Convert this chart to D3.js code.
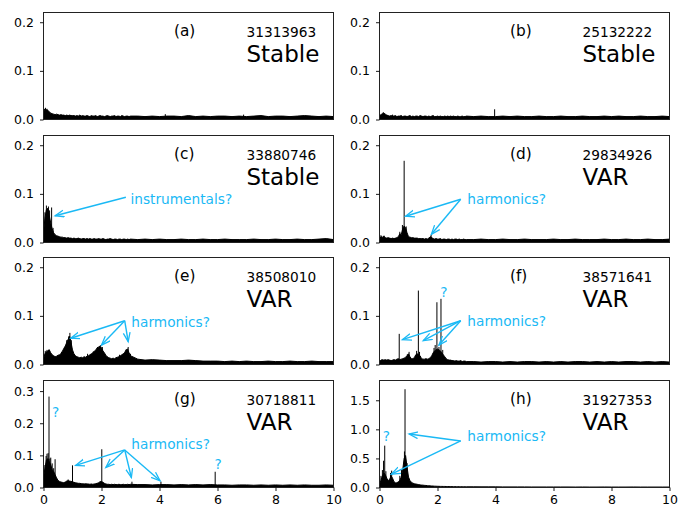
<!DOCTYPE html>
<html>
<head>
<meta charset="utf-8">
<script src="https://cdn.jsdelivr.net/npm/d3@7"></script>
<style>
  body { margin: 0; background: #fff; }
  svg text { font-family: "DejaVu Sans", sans-serif; }
</style>
</head>
<body>
<svg id="chart" width="680" height="506"></svg>
<script>
// frequency grid of the spectra (fine below 3, coarse above)
const freqs = [0,0.05,0.1,0.15,0.2,0.25,0.3,0.35,0.4,0.45,
  0.5,0.55,0.6,0.65,0.7,0.75,0.8,0.85,0.9,0.95,
  1,1.05,1.1,1.15,1.2,1.25,1.3,1.35,1.4,1.45,
  1.5,1.55,1.6,1.65,1.7,1.75,1.8,1.85,1.9,1.95,
  2,2.05,2.1,2.15,2.2,2.25,2.3,2.35,2.4,2.45,
  2.5,2.55,2.6,2.65,2.7,2.75,2.8,2.85,2.9,2.95,
  3,
  3.25,3.5,3.75,4,4.25,4.5,4.75,5,5.25,5.5,
  5.75,6,6.25,6.5,6.75,7,7.25,7.5,7.75,8,
  8.25,8.5,8.75,9,9.25,9.5,9.75,10];

// spectrum envelopes
const ampA = [0.016,0.022,0.020,0.019,0.016,0.013,0.012,0.011,0.010,0.011,
  0.010,0.009,0.010,0.009,0.009,0.008,0.009,0.008,0.009,0.008,
  0.008,0.008,0.007,0.008,0.007,0.009,0.007,0.008,0.007,0.007,
  0.008,0.007,0.006,0.008,0.007,0.007,0.008,0.006,0.007,0.008,
  0.007,0.007,0.006,0.007,0.008,0.007,0.006,0.007,0.007,0.008,
  0.006,0.007,0.007,0.006,0.008,0.007,0.006,0.007,0.007,0.006,
  0.007,
  0.007,0.006,0.007,0.006,0.007,0.007,0.006,0.008,0.006,0.007,
  0.006,0.007,0.007,0.006,0.007,0.006,0.007,0.008,0.006,0.007,
  0.007,0.006,0.007,0.008,0.007,0.006,0.007,0.006];
const ampB = [0.008,0.010,0.012,0.013,0.011,0.009,0.008,0.007,0.008,0.007,
  0.007,0.008,0.006,0.007,0.007,0.008,0.006,0.007,0.007,0.006,
  0.007,0.008,0.006,0.007,0.006,0.007,0.007,0.006,0.008,0.007,
  0.006,0.007,0.007,0.006,0.007,0.006,0.007,0.008,0.006,0.006,
  0.007,0.006,0.007,0.006,0.006,0.007,0.006,0.007,0.006,0.007,
  0.006,0.007,0.006,0.006,0.007,0.006,0.006,0.007,0.006,0.006,
  0.007,
  0.006,0.007,0.006,0.006,0.007,0.006,0.007,0.006,0.006,0.007,
  0.006,0.006,0.007,0.006,0.006,0.007,0.006,0.006,0.007,0.006,
  0.007,0.006,0.006,0.007,0.006,0.006,0.007,0.006];
const ampC = [0.020,0.050,0.068,0.070,0.055,0.040,0.028,0.020,0.016,0.014,
  0.013,0.012,0.011,0.011,0.010,0.010,0.009,0.010,0.009,0.009,
  0.008,0.009,0.008,0.008,0.009,0.008,0.007,0.008,0.008,0.007,
  0.008,0.007,0.008,0.007,0.007,0.008,0.007,0.007,0.008,0.007,
  0.007,0.008,0.007,0.006,0.007,0.007,0.008,0.007,0.006,0.007,
  0.007,0.006,0.007,0.007,0.006,0.007,0.007,0.006,0.007,0.006,
  0.007,
  0.006,0.007,0.006,0.007,0.006,0.006,0.007,0.006,0.006,0.007,
  0.006,0.006,0.007,0.006,0.006,0.006,0.007,0.006,0.006,0.007,
  0.006,0.006,0.007,0.006,0.006,0.007,0.008,0.006];
const ampD = [0.006,0.012,0.011,0.013,0.010,0.009,0.010,0.009,0.008,0.009,
  0.008,0.009,0.010,0.012,0.018,0.016,0.028,0.034,0.030,0.020,
  0.012,0.011,0.010,0.010,0.009,0.009,0.009,0.008,0.008,0.008,
  0.008,0.007,0.008,0.007,0.009,0.012,0.010,0.008,0.007,0.008,
  0.007,0.007,0.008,0.006,0.007,0.007,0.006,0.007,0.007,0.006,
  0.007,0.006,0.007,0.007,0.006,0.007,0.006,0.006,0.007,0.006,
  0.006,
  0.006,0.007,0.006,0.006,0.007,0.006,0.006,0.007,0.006,0.006,
  0.006,0.007,0.006,0.006,0.007,0.006,0.006,0.006,0.007,0.006,
  0.006,0.007,0.006,0.006,0.007,0.006,0.006,0.007];
const ampE = [0.012,0.022,0.026,0.028,0.030,0.024,0.020,0.018,0.016,0.017,
  0.019,0.020,0.022,0.027,0.033,0.038,0.045,0.052,0.058,0.045,
  0.030,0.022,0.018,0.016,0.015,0.014,0.015,0.014,0.016,0.015,
  0.017,0.018,0.020,0.022,0.024,0.027,0.030,0.034,0.036,0.038,
  0.034,0.028,0.024,0.019,0.016,0.014,0.013,0.012,0.013,0.012,
  0.014,0.015,0.016,0.018,0.020,0.022,0.025,0.030,0.032,0.024,
  0.018,
  0.011,0.009,0.010,0.009,0.008,0.008,0.008,0.009,0.008,0.007,
  0.007,0.007,0.006,0.007,0.006,0.007,0.006,0.006,0.007,0.006,
  0.006,0.007,0.006,0.006,0.007,0.006,0.006,0.006];
const ampF = [0.006,0.009,0.010,0.009,0.010,0.009,0.010,0.009,0.008,0.009,
  0.010,0.009,0.011,0.012,0.010,0.011,0.012,0.013,0.015,0.018,
  0.022,0.016,0.012,0.012,0.014,0.020,0.022,0.020,0.018,0.012,
  0.011,0.011,0.012,0.011,0.012,0.014,0.018,0.024,0.028,0.030,
  0.032,0.030,0.028,0.024,0.020,0.016,0.012,0.010,0.009,0.009,
  0.008,0.008,0.007,0.008,0.007,0.007,0.008,0.006,0.007,0.007,
  0.006,
  0.006,0.005,0.006,0.006,0.005,0.006,0.005,0.006,0.006,0.005,
  0.006,0.005,0.006,0.005,0.006,0.006,0.005,0.006,0.005,0.006,
  0.005,0.006,0.006,0.005,0.006,0.005,0.006,0.005];
const ampG = [0.030,0.060,0.085,0.090,0.080,0.070,0.055,0.050,0.040,0.030,
  0.022,0.019,0.017,0.016,0.015,0.017,0.020,0.021,0.020,0.019,
  0.018,0.016,0.015,0.014,0.013,0.013,0.012,0.012,0.011,0.012,
  0.011,0.011,0.010,0.011,0.010,0.011,0.012,0.013,0.015,0.018,
  0.019,0.016,0.013,0.011,0.010,0.010,0.009,0.010,0.009,0.010,
  0.009,0.009,0.010,0.009,0.009,0.010,0.009,0.009,0.010,0.009,
  0.010,
  0.009,0.009,0.008,0.009,0.009,0.008,0.009,0.008,0.009,0.008,
  0.009,0.008,0.008,0.007,0.008,0.008,0.007,0.008,0.007,0.008,
  0.007,0.008,0.007,0.008,0.007,0.007,0.008,0.007];
const ampH = [0.05,0.12,0.20,0.25,0.22,0.16,0.12,0.14,0.20,0.16,
  0.10,0.08,0.08,0.10,0.12,0.18,0.30,0.50,0.55,0.35,
  0.18,0.12,0.09,0.075,0.065,0.06,0.055,0.05,0.045,0.042,
  0.040,0.037,0.035,0.032,0.030,0.028,0.026,0.025,0.023,0.022,
  0.021,0.020,0.019,0.019,0.018,0.018,0.017,0.017,0.016,0.016,
  0.015,0.015,0.015,0.014,0.014,0.014,0.013,0.013,0.013,0.012,
  0.012,
  0.012,0.011,0.011,0.011,0.010,0.010,0.010,0.010,0.009,0.009,
  0.009,0.009,0.009,0.009,0.008,0.009,0.008,0.008,0.009,0.008,
  0.008,0.008,0.009,0.008,0.008,0.008,0.008,0.008];

// narrow peaks [frequency, height]
const spikesA = [[0.07,0.024],[0.12,0.022],[4.2,0.011],[6.9,0.010]];
const spikesB = [[3.97,0.021],[0.13,0.015],[0.45,0.010]];
const spikesC = [[0.10,0.076],[0.17,0.074],[0.28,0.072],[0.05,0.062],[0.14,0.070],[0.21,0.066],[0.33,0.030]];
const spikesD = [[0.85,0.168],[0.79,0.036],[0.92,0.033],[0.70,0.022],[1.78,0.016],[0.05,0.015],[0.16,0.014]];
const spikesE = [[0.91,0.065],[0.87,0.058],[1.97,0.040],[2.92,0.036],[0.19,0.031],[0.72,0.034],
  [0.06,0.028],[0.12,0.030],[0.62,0.026],[0.80,0.050],[0.96,0.050],[1.52,0.022],[1.72,0.027],
  [1.86,0.036],[2.03,0.036],[2.62,0.020],[2.85,0.031],[3.0,0.022]];
const spikesF = [[0.68,0.063],[1.34,0.152],[1.98,0.128],[2.12,0.135],[1.02,0.026],[1.28,0.028],[1.92,0.040],[2.05,0.036],
  [0.96,0.021],[1.38,0.026],[1.88,0.034],[2.18,0.030]];
const spikesG = [[0.19,0.283],[0.09,0.098],[0.12,0.105],[0.16,0.107],[0.25,0.093],[0.40,0.088],[0.30,0.075],[1.00,0.069],[2.01,0.119],[3.05,0.018],[4.05,0.018],[5.92,0.049],
  [0.05,0.070],[0.22,0.090],[0.35,0.060],[0.85,0.025]];
const spikesH = [[0.88,1.69],[0.18,0.72],[0.14,0.46],[0.42,0.29],[0.86,0.62],[0.10,0.30],[0.70,0.20],
  [0.05,0.20],[0.22,0.28],[0.38,0.25],[0.76,0.30],[0.95,0.42]];

const letters = ['(a)','(b)','(c)','(d)','(e)','(f)','(g)','(h)'];
const starIds = ['31313963','25132222','33880746','29834926','38508010','38571641','30718811','31927353'];
const states = ['Stable','Stable','Stable','VAR','VAR','VAR','VAR','VAR'];
const yMaxes = [0.22,0.22,0.22,0.22,0.22,0.22,0.333,1.84];
const yTickSets = [[0,0.1,0.2],[0,0.1,0.2],[0,0.1,0.2],[0,0.1,0.2],[0,0.1,0.2],[0,0.1,0.2],[0,0.1,0.2,0.3],[0,0.5,1.0,1.5]];
const xTicks = [0,2,4,6,8,10];

// annotations in data coordinates
const notes = [
  null,
  null,
  {label:'instrumentals?', text:[3.0,0.09], from:[2.84,0.093], to:[[0.40,0.055]], marks:[]},
  {label:'harmonics?', text:[3.03,0.09], from:[2.8,0.089], to:[[0.9,0.054],[1.79,0.017]], marks:[]},
  {label:'harmonics?', text:[3.03,0.088], from:[2.8,0.09], to:[[0.94,0.054],[2.0,0.04],[2.92,0.047]], marks:[]},
  {label:'harmonics?', text:[3.03,0.09], from:[2.8,0.09], to:[[0.79,0.051],[1.51,0.049],[2.05,0.04]], marks:[[2.22,0.149]]},
  {label:'harmonics?', text:[3.03,0.135], from:[2.8,0.117], to:[[1.11,0.069],[2.15,0.062],[3.03,0.031],[4.02,0.021]], marks:[[0.42,0.235],[6.02,0.073]]},
  {label:'harmonics?', text:[3.03,0.89], from:[2.8,0.80], to:[[1.02,0.92],[0.41,0.23]], marks:[[0.24,0.89]]}
];

const amps = [ampA, ampB, ampC, ampD, ampE, ampF, ampG, ampH];
const spikes = [spikesA, spikesB, spikesC, spikesD, spikesE, spikesF, spikesG, spikesH];

const colLeft = [43, 379];
const rowTop = [12, 135, 257, 380];
const plotW = 290, plotH = 107;
const blue = '#1ab9f5';

const svg = d3.select('#chart');

svg.append('defs').append('marker')
  .attr('id', 'head')
  .attr('markerUnits', 'userSpaceOnUse')
  .attr('markerWidth', 12).attr('markerHeight', 10)
  .attr('refX', 9).attr('refY', 4)
  .attr('orient', 'auto')
  .append('path')
  .attr('d', 'M0,0.6 L9,4 L0,7.4')
  .attr('fill', 'none')
  .attr('stroke', blue)
  .attr('stroke-width', 1.3);

starIds.forEach((id, i) => {
  const left = colLeft[i % 2];
  const top = rowTop[Math.floor(i / 2)];
  const g = svg.append('g').attr('transform', `translate(${left + 0.5},${top + 0.5})`);

  const x = d3.scaleLinear().domain([0, 10]).range([0, plotW]);
  const y = d3.scaleLinear().domain([0, yMaxes[i]]).range([plotH, 0]);

  g.append('clipPath').attr('id', 'clip' + i)
    .append('rect').attr('width', plotW).attr('height', plotH);

  const plot = g.append('g').attr('clip-path', `url(#clip${i})`);

  const pts = freqs.map((f, k) => [f, amps[i][k]]);
  const area = d3.area().x(d => x(d[0])).y0(y(0)).y1(d => y(d[1]));
  const line = d3.line().x(d => x(d[0])).y(d => y(d[1]));

  plot.append('path').datum(pts).attr('d', area).attr('fill', '#000');
  plot.append('path').datum(pts).attr('d', line)
    .attr('fill', 'none').attr('stroke', '#000').attr('stroke-width', 1);

  plot.selectAll('line.spike')
    .data(spikes[i])
    .join('line')
    .attr('class', 'spike')
    .attr('x1', d => x(d[0])).attr('x2', d => x(d[0]))
    .attr('y1', y(0)).attr('y2', d => y(d[1]))
    .attr('stroke', '#000')
    .attr('stroke-width', 1);

  // frame
  g.append('rect')
    .attr('width', plotW).attr('height', plotH)
    .attr('fill', 'none').attr('stroke', '#222').attr('stroke-width', 1);

  const yAxis = g.append('g')
    .call(d3.axisLeft(y).tickValues(yTickSets[i]).tickFormat(d3.format('.1f')).tickSize(3.5).tickPadding(6));
  yAxis.select('.domain').remove();

  if (i >= 6) {
    const xAxis = g.append('g')
      .attr('transform', `translate(0,${plotH})`)
      .call(d3.axisBottom(x).tickValues(xTicks).tickFormat(d3.format('d')).tickSize(3.5).tickPadding(4.5));
    xAxis.select('.domain').remove();
  }

  g.selectAll('.tick line').attr('stroke', '#000').attr('stroke-width', 0.9);
  g.selectAll('.tick text')
    .attr('font-family', '"DejaVu Sans", sans-serif')
    .attr('font-size', 12.5)
    .attr('fill', '#000');

  g.append('text')
    .attr('x', 0.45 * plotW).attr('y', 23.5)
    .attr('font-size', 15.3)
    .text(letters[i]);
  g.append('text')
    .attr('x', 0.70 * plotW).attr('y', 24.5)
    .attr('font-size', 13.7)
    .text(id);
  g.append('text')
    .attr('x', 0.70 * plotW).attr('y', 49.5)
    .attr('font-size', 23)
    .text(states[i]);

  const n = notes[i];
  if (n) {
    n.to.forEach(t => {
      g.append('line')
        .attr('x1', x(n.from[0])).attr('y1', y(n.from[1]))
        .attr('x2', x(t[0])).attr('y2', y(t[1]))
        .attr('stroke', blue).attr('stroke-width', 1.4)
        .attr('marker-end', 'url(#head)');
    });
    g.append('text')
      .attr('x', x(n.text[0])).attr('y', y(n.text[1]) + 5)
      .attr('font-size', 13.7)
      .attr('fill', blue)
      .text(n.label);
    n.marks.forEach(m => {
      g.append('text')
        .attr('x', x(m[0])).attr('y', y(m[1]) + 5)
        .attr('text-anchor', 'middle')
        .attr('font-size', 13.7)
        .attr('fill', blue)
        .text('?');
    });
  }
});
</script>
</body>
</html>
